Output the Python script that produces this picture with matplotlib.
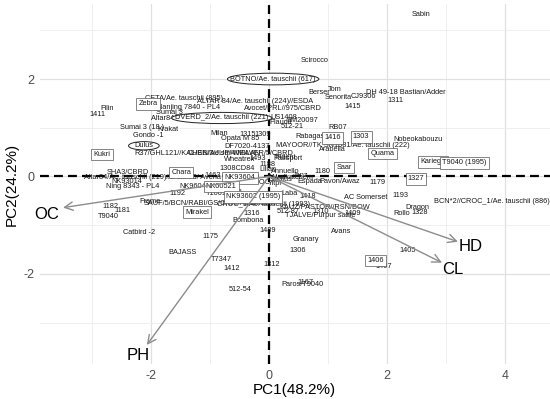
import matplotlib
matplotlib.use('Agg')
import matplotlib.pyplot as plt
from matplotlib.patches import Ellipse

# ------------- datos (PC1, PC2) -------------
labels = ["Sabin", "Scirocco", "Berser", "Tom", "Senorita", "CJ9306", "DH 49-18 Bastian/Adder",
          "1311", "1415", "CETA/Ae. tauschii (895)", "Filin", "1411", "Nanjing 7840 - PL4",
          "ALTAR 84/Ae. tauschii (224)//ESDA", "Sumai 3", "Altar84/Ae. tauschii",
          "Avocet/PRL//975/CBRD", "US1408", "Plaudit", "SM20097", "512-21", "RB07", "Rabagas",
          "MAYOOR//TK SN1081/Ae. tauschii (222)", "Arabella", "Nobeokabouzu", "Sumai 3 (18.)",
          "Krakat", "Gondo -1", "R37/GHL121//KAL/BB/3/JUP/4/MILAN", "CHEN/Ae.sq//WEAVER/5/CBRD",
          "Milan", "1315", "1309", "Opata M 85", "DF7020-4137", "Wheatrek", "1493", "1308CD84",
          "1463", "SHA3/CBRD", "Altar84/Ae. tauschii (219)//2*Seri/3/ Avena", "NK93014",
          "Ning 8343 - PL4", "NK96040", "1192", "T10014", "1176", "Frame",
          "SAUF/5/BCN/RABI/GS/CRA//Ae.tauschii", "1182", "1181", "T9040", "Catbird -2", "1175",
          "BAJASS", "T7347", "1412", "512-54", "1316", "Bombona", "1489", "1312", "Granary",
          "1306", "Avans", "Paros/T9040", "1167", "1407", "1405", "Rollo", "Dragon", "1328",
          "1193", "AC Somerset", "BCN*2//CROC_1/Ae. tauschii (886)", "1179", "1188", "Trident",
          "Passport", "1180", "BJY/COC", "Laba", "1418", "512-87", "1310", "TJALVE/Purpur sable",
          "1409", "KAUZ/PASTOR//RSN/BOW", "CROC_1/Ae. tauschii (1993)", "Lilian", "Annuello",
          "Wyalkatchem", "Gladius", "Janz", "Espada", "Yitpi", "Pavon/Awaz"]
pc1 = [2.58, 0.78, 0.85, 1.12, 1.17, 1.59, 2.31,
       2.14, 1.42, -1.44, -2.75, -2.90, -1.37,
       -0.24, -1.68, -1.47,
       0.24, 0.25, 0.19, 0.56, 0.39, 1.17, 0.70,
       1.25, 1.08, 2.53, -2.15,
       -1.71, -2.05, -1.22, -0.49,
       -0.85, -0.36, -0.10, -0.49, -0.37, -0.49, -0.20, -0.54,
       -0.95, -2.39, -1.97, -2.41,
       -2.31, -1.25, -1.56, -0.86, -0.58, -2.02,
       -1.00, -2.69, -2.49, -2.73, -2.20, -1.00,
       -1.46, -0.81, -0.63, -0.49, -0.29, -0.36, -0.03, 0.05, 0.63,
       0.49, 1.22, 0.56, 0.61, 1.95, 2.34, 2.25, 2.51, 2.56,
       2.22, 1.63, 3.78, 1.83, -0.02, 0.27,
       0.32, 0.90, -0.25, 0.34, 0.66, 0.32, 0.88, 0.86,
       1.41, 0.95, -0.10, -0.02, 0.27,
       0.39, 0.19, 0.53, 0.69, 0.10, 1.19]
pc2 = [3.32, 2.38, 1.72, 1.78, 1.62, 1.64, 1.72,
       1.55, 1.43, 1.60, 1.39, 1.27, 1.41,
       1.53, 1.31, 1.18,
       1.39, 1.22, 1.10, 1.14, 1.02, 1.00, 0.83,
       0.63, 0.55, 0.75, 1.00,
       0.96, 0.85, 0.48, 0.48,
       0.88, 0.87, 0.87, 0.77, 0.61, 0.34, 0.36, 0.16,
       0.01, 0.08, -0.03, -0.11,
       -0.21, -0.21, -0.34, -0.36, -0.32, -0.52,
       -0.56, -0.62, -0.70, -0.83, -1.16, -1.24,
       -1.57, -1.71, -1.88, -2.33, -0.77, -0.91, -1.11, -1.81, -1.30,
       -1.51, -1.14, -2.22, -2.18, -1.85, -1.51, -0.77, -0.64, -0.75,
       -0.40, -0.44, -0.52, -0.13, 0.24, 0.38,
       0.36, 0.10, -0.13, -0.34, -0.42, -0.72, -0.71, -0.81,
       -0.77, -0.64, -0.58, 0.14, 0.10,
       -0.03, -0.07, 0.01, -0.11, -0.15, -0.11]

box_labels = ["Zebra", "Kukri", "Chara", "Mirakel", "NK93604", "NK00521", "NK93602 (1995)",
              "1406", "1327", "Saar", "Quama", "Kariega", "T9040 (1995)", "1303", "1416"]
box_pc1 = [-2.05, -2.83, -1.49, -1.22, -0.49, -0.81, -0.27, 1.80, 2.49, 1.27, 1.92, 2.78, 3.31, 1.56, 1.07]
box_pc2 = [1.49, 0.45, 0.08, -0.73, -0.03, -0.21, -0.42, -1.73, -0.05, 0.18, 0.47, 0.30, 0.28, 0.81, 0.79]

ell_labels = ["BOTNO/Ae. tauschii (617)", "DVERD_2/Ae. tauschii (221)", "Dulus"]
ell_pc1 = [0.07, -0.80, -2.12]
ell_pc2 = [2.0, 1.20, 0.63]
ell_w = [1.55, 1.70, 0.52]
ell_h = [0.24, 0.23, 0.17]

vars_ = ["OC", "PH", "HD", "CL"]
var_pc1 = [-3.49, -2.07, 3.20, 2.93]
var_pc2 = [-0.64, -3.46, -1.34, -1.77]
var_lab1 = [-3.76, -2.22, 3.41, 3.12]
var_lab2 = [-0.78, -3.68, -1.44, -1.92]

# ------------- figura -------------
plt.rcParams['font.family'] = ['Liberation Sans', 'DejaVu Sans']
fig = plt.figure(figsize=(5.5, 3.99), dpi=100)
ax = fig.add_axes([40/550, 35/399, 510/550, 360/399])
ax.set_xlim(-3.88, 4.76)
ax.set_ylim(-3.85, 3.54)
for s in ax.spines.values():
    s.set_visible(False)
ax.set_xticks([-2, 0, 2, 4])
ax.set_yticks([-2, 0, 2])
ax.set_xticks([-3, -1, 1, 3], minor=True)
ax.set_yticks([-3, -1, 1, 3], minor=True)
ax.set_xticklabels(["-2", "0", "2", "4"])
ax.set_yticklabels(["-2", "0", "2"])
ax.tick_params(which='both', length=0, labelsize=9, colors='#4d4d4d', pad=4)
ax.grid(which='major', color='#e0e0e0', lw=0.9)
ax.grid(which='minor', color='#ececec', lw=0.6)
ax.set_axisbelow(True)

ax.axhline(0, color='black', lw=1.6, ls=(0, (4, 2.3)), zorder=1)
ax.axvline(0, color='black', lw=1.6, ls=(0, (4, 2.3)), zorder=1)

for lab, x, y in zip(labels, pc1, pc2):
    ax.text(x, y, lab, fontsize=5.3, color='#1a1a1a', ha='center', va='center', zorder=2)

for lab, x, y in zip(box_labels, box_pc1, box_pc2):
    ax.text(x, y, lab, fontsize=5.3, color='#1a1a1a', ha='center', va='center', zorder=3,
            bbox=dict(boxstyle='square,pad=0.3', fc='white', ec='#555555', lw=0.5))

for lab, x, y, w, h in zip(ell_labels, ell_pc1, ell_pc2, ell_w, ell_h):
    ax.add_patch(Ellipse((x, y), w, h, fc='white', ec='#222222', lw=0.7, zorder=3))
    ax.text(x, y, lab, fontsize=5.3, color='#1a1a1a', ha='center', va='center', zorder=4)

for v, x, y, lx, ly in zip(vars_, var_pc1, var_pc2, var_lab1, var_lab2):
    ax.annotate('', xy=(x, y), xytext=(0, 0),
                arrowprops=dict(arrowstyle='->,head_length=0.5,head_width=0.25', color='#8c8c8c',
                                lw=1.0, shrinkA=0, shrinkB=0, mutation_scale=12), zorder=5)
    ax.text(lx, ly, v, fontsize=12, color='black', ha='center', va='center', zorder=6)

fig.text(294/550, 1 - 390/399, "PC1(48.2%)", fontsize=11, ha='center', va='center')
fig.text(12/550, 1 - 184/399, "PC2(24.2%)", fontsize=11, ha='center', va='center', rotation=90)

fig.savefig("out.png", dpi=100)
